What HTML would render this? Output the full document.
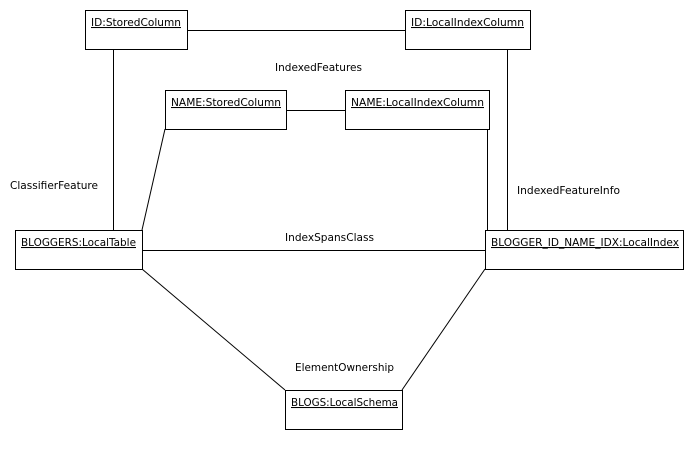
<!DOCTYPE html>
<html><head><style>body{margin:0;background:#fff}svg{display:block}text{font-family:"DejaVu Sans","Liberation Sans",sans-serif;font-size:10.5px;fill:#000}</style></head>
<body>
<svg width="695" height="461" xmlns="http://www.w3.org/2000/svg">
<g stroke="#000" stroke-width="1" fill="none" shape-rendering="crispEdges">
<rect x="85.5" y="10.5" width="102" height="39"/>
<rect x="405.5" y="10.5" width="125" height="39"/>
<rect x="165.5" y="90.5" width="121" height="39"/>
<rect x="345.5" y="90.5" width="144" height="39"/>
<rect x="15.5" y="230.5" width="127" height="39"/>
<rect x="485.5" y="230.5" width="198" height="39"/>
<rect x="285.5" y="390.5" width="117" height="39"/>
<line x1="187" y1="30.5" x2="405" y2="30.5"/>
<line x1="286" y1="110.5" x2="345" y2="110.5"/>
<line x1="142" y1="250.5" x2="485" y2="250.5"/>
<line x1="113.5" y1="49" x2="113.5" y2="230"/>
<line x1="487.5" y1="129" x2="487.5" y2="230"/>
<line x1="507.5" y1="49" x2="507.5" y2="230"/>
</g>
<g stroke="#000" stroke-width="1">
<line x1="165" y1="129" x2="142" y2="230"/>
<line x1="142" y1="269" x2="285" y2="390"/>
<line x1="485" y1="269" x2="402" y2="390"/>
</g>
<text x="91" y="26" text-decoration="underline" textLength="90" lengthAdjust="spacingAndGlyphs">ID:StoredColumn</text>
<text x="411" y="26" text-decoration="underline" textLength="113" lengthAdjust="spacingAndGlyphs">ID:LocalIndexColumn</text>
<text x="171" y="106" text-decoration="underline" textLength="110" lengthAdjust="spacingAndGlyphs">NAME:StoredColumn</text>
<text x="351" y="106" text-decoration="underline" textLength="133" lengthAdjust="spacingAndGlyphs">NAME:LocalIndexColumn</text>
<text x="21" y="246" text-decoration="underline" textLength="115" lengthAdjust="spacingAndGlyphs">BLOGGERS:LocalTable</text>
<text x="491" y="246" text-decoration="underline" textLength="188" lengthAdjust="spacingAndGlyphs">BLOGGER_ID_NAME_IDX:LocalIndex</text>
<text x="291" y="406" text-decoration="underline" textLength="107" lengthAdjust="spacingAndGlyphs">BLOGS:LocalSchema</text>
<text x="275" y="71" textLength="87" lengthAdjust="spacingAndGlyphs">IndexedFeatures</text>
<text x="10" y="189" textLength="88" lengthAdjust="spacingAndGlyphs">ClassifierFeature</text>
<text x="517" y="194" textLength="103" lengthAdjust="spacingAndGlyphs">IndexedFeatureInfo</text>
<text x="285" y="241" textLength="89" lengthAdjust="spacingAndGlyphs">IndexSpansClass</text>
<text x="295" y="371" textLength="99" lengthAdjust="spacingAndGlyphs">ElementOwnership</text>
</svg>
</body></html>
